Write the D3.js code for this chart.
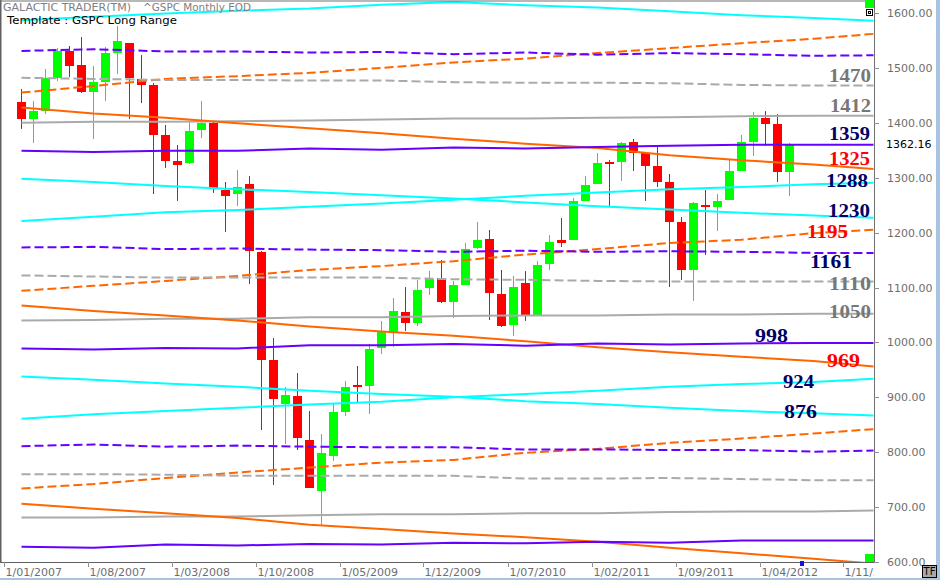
<!DOCTYPE html>
<html><head><meta charset="utf-8">
<script src="https://cdn.jsdelivr.net/npm/d3@7"></script>
<style>body{margin:0;background:#fff;} svg{display:block;}</style>
</head><body>
<svg id="chart" width="940" height="580"></svg>
<script>
// ---------- DATA ----------
const months = ["2007-02","2007-03","2007-04","2007-05","2007-06","2007-07","2007-08","2007-09","2007-10","2007-11","2007-12",
"2008-01","2008-02","2008-03","2008-04","2008-05","2008-06","2008-07","2008-08","2008-09","2008-10","2008-11","2008-12",
"2009-01","2009-02","2009-03","2009-04","2009-05","2009-06","2009-07","2009-08","2009-09","2009-10","2009-11","2009-12",
"2010-01","2010-02","2010-03","2010-04","2010-05","2010-06","2010-07","2010-08","2010-09","2010-10","2010-11","2010-12",
"2011-01","2011-02","2011-03","2011-04","2011-05","2011-06","2011-07","2011-08","2011-09","2011-10","2011-11","2011-12",
"2012-01","2012-02","2012-03","2012-04","2012-05","2012-06"];
const openP = [1437.9,1406.8,1420.8,1482.4,1530.6,1504.7,1455.2,1474.0,1527.3,1545.8,1479.6,
1468.0,1378.6,1330.5,1326.4,1386.0,1399.6,1276.7,1269.4,1287.8,1164.2,968.7,888.6,
903.0,823.1,729.6,793.6,872.7,923.3,920.8,990.2,1019.5,1054.9,1036.2,1098.9,
1116.6,1073.9,1105.4,1171.2,1188.6,1087.3,1031.1,1107.5,1049.7,1143.5,1185.7,1186.6,
1257.6,1289.1,1328.6,1329.5,1365.2,1345.2,1320.6,1292.6,1219.1,1131.2,1251.0,1246.9,
1258.9,1312.5,1365.9,1408.5,1397.9,1309.9];
const highP = [1461.6,1438.9,1498.0,1535.6,1540.6,1555.9,1503.9,1538.7,1576.1,1545.8,1523.6,
1471.8,1396.0,1359.7,1404.0,1440.2,1404.1,1292.2,1313.2,1303.0,1167.0,1007.5,918.9,
943.9,875.0,833.0,888.7,930.2,956.2,996.7,1039.5,1080.2,1101.4,1113.7,1130.4,
1150.5,1112.4,1180.7,1219.8,1205.1,1131.2,1121.0,1129.2,1148.7,1196.1,1227.1,1262.6,
1302.7,1344.1,1332.3,1364.6,1370.6,1345.2,1356.5,1307.4,1229.3,1256.2,1277.6,1269.4,
1333.5,1378.0,1419.2,1422.4,1415.3,1363.5];
const lowP = [1389.4,1364.0,1416.4,1476.7,1484.2,1454.3,1370.6,1439.3,1489.6,1406.1,1435.7,
1270.1,1316.8,1257.0,1324.4,1373.1,1272.0,1200.4,1248.6,1106.4,839.8,741.0,815.7,
804.3,734.5,666.8,783.3,866.1,888.9,869.3,978.5,992.0,1020.2,1029.4,1085.9,
1071.6,1044.5,1105.4,1170.7,1040.8,1028.3,1010.9,1039.7,1049.7,1131.9,1173.0,1186.6,
1257.6,1289.1,1249.1,1294.7,1311.8,1258.1,1282.9,1101.5,1114.2,1074.8,1158.7,1202.4,
1258.9,1312.5,1340.0,1357.4,1292.0,1266.7];
const closeP = [1406.8,1420.9,1482.4,1530.6,1503.4,1455.3,1474.0,1526.8,1549.4,1481.1,1468.4,
1378.6,1330.6,1322.7,1385.6,1400.4,1280.0,1267.4,1282.8,1166.4,968.8,896.2,903.3,
825.9,735.1,797.9,872.8,919.1,919.3,987.5,1020.6,1057.1,1036.2,1095.6,1115.1,
1073.9,1104.5,1169.4,1186.7,1089.4,1030.7,1101.6,1049.3,1141.2,1183.3,1180.6,1257.6,
1286.1,1327.2,1325.8,1363.6,1345.2,1320.6,1292.3,1218.9,1131.4,1253.3,1247.0,1257.6,
1312.4,1365.7,1408.5,1397.9,1310.3,1362.16];

// level lines, values read at these months
const knotMonths = ["2007-02","2007-08","2008-02","2008-08","2009-02","2009-08","2010-02","2010-08","2011-02","2011-08","2012-02","2012-08","2013-01"];
const cyanTop        = [1587,1593,1599,1604,1608,1615,1620,1614,1610,1603,1596,1591,1586];
const orangeDashTop  = [1455,1467,1480,1485,1491,1500,1510,1517,1527,1536,1545,1553,1562];
const purpleDashTop  = [1531,1534,1530,1530,1528,1529,1525,1528,1524,1527,1525,1522,1523];
const grayDashTop    = [1482,1480,1478,1478,1477,1477,1474,1473,1473,1472,1469,1468,1468];
const graySolidTop   = [1400,1402,1402,1403,1404,1406,1408,1408,1409,1410,1412,1413,1413];
const orangeSolidTop = [1428,1417,1409,1399,1390,1381,1371,1362,1354,1341,1332,1324,1316];
const purpleSolidTop = [1349,1347,1349,1349,1353,1351,1355,1353,1356,1358,1360,1360,1360];
const cyanDescTop    = [1298,1292,1285,1279,1274,1268,1262,1255,1248,1242,1236,1231,1227];
const cyanAscTop     = [1221,1229,1237,1241,1247,1253,1260,1267,1273,1279,1283,1288,1291];
const orangeDashMid  = [1094,1103,1112,1121,1132,1139,1148,1160,1170,1181,1187,1199,1205];
const purpleDashMid  = [1173,1174,1170,1171,1169,1168,1165,1167,1165,1166,1165,1163,1163];
const grayDashMid    = [1122,1120,1118,1118,1118,1118,1115,1114,1112,1111,1111,1111,1111];
const graySolidMid   = [1040,1041,1043,1043,1046,1046,1048,1049,1049,1051,1051,1052,1052];
const orangeSolidMid = [1067,1057,1049,1040,1029,1020,1012,1002,991,982,974,966,956];
const purpleSolidMid = [989,987,990,989,995,995,997,994,998,996,998,999,999];
const cyanDescLow    = [938,932,925,919,912,906,901,893,888,881,875,871,867];
const cyanAscLow     = [861,869,875,881,887,892,900,906,912,919,924,928,934];
const orangeDashLow  = [734,742,753,763,772,781,786,799,806,817,825,834,842];
const purpleDashLow  = [811,814,810,812,810,809,809,805,805,804,804,801,803];
const grayDashLow    = [760,760,759,757,757,757,757,752,752,753,751,749,749];
const graySolidLow   = [681,681,683,683,685,687,687,689,689,691,692,692,694];
const orangeSolidLow = [706,697,689,680,668,660,652,645,637,626,616,606,597];
const purpleSolidLow = [628,626,632,630,633,632,635,634,637,635,639,639,639];

const levelLabels = ["1470","1412","1359","1325","1288","1230","1195","1161","1110","1050","998","969","924","876"];
const yTicks = [600,700,800,900,1000,1100,1200,1300,1400,1500,1600];
const xTickMonths = ["2007-01","2007-08","2008-03","2008-10","2009-05","2009-12","2010-07","2011-02","2011-09","2012-04","2012-11"];

// ---------- STYLE / LAYOUT ----------
const C = {cyan:"#00ffff", orange:"#ff6600", purple:"#6600ff", gray:"#aaaaaa"};
const series = [
  [cyanTop,C.cyan,false],[orangeDashTop,C.orange,true],[purpleDashTop,C.purple,true],[grayDashTop,C.gray,true],
  [graySolidTop,C.gray,false],[orangeSolidTop,C.orange,false],[purpleSolidTop,C.purple,false],
  [cyanDescTop,C.cyan,false],[cyanAscTop,C.cyan,false],
  [orangeDashMid,C.orange,true],[purpleDashMid,C.purple,true],[grayDashMid,C.gray,true],
  [graySolidMid,C.gray,false],[orangeSolidMid,C.orange,false],[purpleSolidMid,C.purple,false],
  [cyanDescLow,C.cyan,false],[cyanAscLow,C.cyan,false],
  [orangeDashLow,C.orange,true],[purpleDashLow,C.purple,true],[grayDashLow,C.gray,true],
  [graySolidLow,C.gray,false],[orangeSolidLow,C.orange,false],[purpleSolidLow,C.purple,false]
];
const NAVY="#000066", RED="#ff0000", LG="#777777";
// [left x, width, dy from level, color]
const labelLayout = [
  [829,42,-8.4,LG],[830,41,-10.2,LG],[829,41,-11.8,NAVY],[829,41,-5,RED],[826,42,-3.3,NAVY],
  [828,42,-5.4,NAVY],[807,41,-3.8,RED],[810,42,7.7,NAVY],[829,42,2,LG],[829,42,-2.6,LG],
  [755,33,-7.5,NAVY],[827,33,1.3,RED],[783,31,-1.8,NAVY],[784,33,1.1,NAVY]
];

// ---------- SCALES ----------
const svg = d3.select("#chart");
const PL=1, PR=874, PT=1, PB=562;
const mIndex = s => { const [y,m] = s.split("-").map(Number); return (y-2007)*12 + (m-1); };
const x = d3.scaleLinear().domain([0,72]).range([3.5,867.5]);
const y = d3.scaleLinear().domain([600,1600]).range([562,13]);
const cx = s => x(mIndex(s)+0.5);

svg.append("defs").append("clipPath").attr("id","plot")
  .append("rect").attr("x",PL).attr("y",PT).attr("width",PR-PL).attr("height",PB-PT);
svg.select("defs").append("clipPath").attr("id","xlab")
  .append("rect").attr("x",0).attr("y",PB).attr("width",PR).attr("height",18);

svg.append("rect").attr("width",940).attr("height",580).attr("fill","#fff");

const plot = svg.append("g").attr("clip-path","url(#plot)");

// candles
const candles = months.map((m,i)=>({m, o:openP[i], h:highP[i], l:lowP[i], c:closeP[i]}));
const cg = plot.append("g").attr("shape-rendering","crispEdges");
cg.selectAll("rect.w").data(candles).join("rect").attr("class","w")
  .attr("x",d=>cx(d.m)-0.5).attr("width",1)
  .attr("y",d=>y(d.h)).attr("height",d=>y(d.l)-y(d.h))
  .attr("fill",d=>d.c>=d.o?"#00ff00":"#ff0000");
cg.selectAll("rect.b").data(candles).join("rect").attr("class","b")
  .attr("x",d=>cx(d.m)-4.5).attr("width",9)
  .attr("y",d=>y(Math.max(d.o,d.c))).attr("height",d=>Math.max(1,Math.abs(y(d.o)-y(d.c))))
  .attr("fill",d=>d.c>=d.o?"#00ff00":"#ff0000");

// level lines
const line = d3.line().x((d,i)=>cx(knotMonths[i])).y(d=>y(d)).curve(d3.curveLinear);
series.forEach(([vals,col,dash])=>{
  plot.append("path").attr("d",line(vals)).attr("fill","none")
    .attr("stroke",col).attr("stroke-width",2)
    .attr("stroke-dasharray",dash?"9,4":null);
});

// level labels
const levelVals = levelLabels.map(Number);
levelLabels.forEach((t,i)=>{
  const [lx,w,dy,col] = labelLayout[i];
  svg.append("text").attr("x",lx).attr("y",y(levelVals[i])+dy+6)
    .attr("textLength",w).attr("lengthAdjust","spacingAndGlyphs")
    .attr("font-family","'Liberation Serif','Times New Roman',serif").attr("font-weight","bold")
    .attr("font-size",18).attr("fill",col).text(t);
});

// frame
svg.append("line").attr("x1",0.75).attr("x2",0.75).attr("y1",0).attr("y2",PB).attr("stroke","#606060").attr("stroke-width",1.5);
svg.append("line").attr("x1",0).attr("x2",PR).attr("y1",1).attr("y2",1).attr("stroke","#707070").attr("stroke-width",1);
svg.append("line").attr("x1",PR+0.5).attr("x2",PR+0.5).attr("y1",0).attr("y2",PB).attr("stroke","#707070").attr("stroke-width",1);
svg.append("line").attr("x1",0).attr("x2",PR+1).attr("y1",PB+0.5).attr("y2",PB+0.5).attr("stroke","#606060").attr("stroke-width",1);

// y axis (right)
const ya = svg.append("g");
yTicks.forEach(v=>{
  ya.append("line").attr("x1",PR).attr("x2",PR+5).attr("y1",Math.round(y(v))+0.5).attr("y2",Math.round(y(v))+0.5).attr("stroke","#909090");
  ya.append("text").attr("x",887).attr("y",y(v)+4).attr("font-family","'DejaVu Sans',Verdana,sans-serif")
    .attr("font-size",11).attr("fill","#6e6e6e").text(d3.format(".2f")(v));
});
const last = closeP[closeP.length-1];
svg.append("text").attr("x",886).attr("y",y(last)+4).attr("font-family","'DejaVu Sans',Verdana,sans-serif")
  .attr("font-size",11).attr("fill","#000").text(last.toFixed(2));

// x axis
const xa = svg.append("g").attr("clip-path","url(#xlab)");
xTickMonths.forEach(s=>{
  const xx = Math.round(x(mIndex(s)))+0.5;
  xa.append("line").attr("x1",xx).attr("x2",xx).attr("y1",PB).attr("y2",PB+5).attr("stroke","#909090");
  const [yy,mm] = s.split("-");
  xa.append("text").attr("x",xx+1).attr("y",576).attr("font-family","'DejaVu Sans',Verdana,sans-serif")
    .attr("font-size",11).attr("fill","#6e6e6e").text("1/"+mm+"/"+yy);
});

// header
svg.append("text").attr("x",3).attr("y",11).attr("font-family","'DejaVu Sans',Verdana,sans-serif")
  .attr("font-size",10).attr("textLength",128).attr("lengthAdjust","spacingAndGlyphs").attr("fill","#808080").text("GALACTIC TRADER(TM)");
svg.append("text").attr("x",143).attr("y",11).attr("font-family","'DejaVu Sans',Verdana,sans-serif")
  .attr("font-size",10).attr("textLength",108).attr("lengthAdjust","spacingAndGlyphs").attr("fill","#808080").text("^GSPC Monthly EOD");
svg.append("text").attr("x",7).attr("y",24).attr("font-family","'DejaVu Sans',Verdana,sans-serif")
  .attr("font-size",11).attr("textLength",170).attr("lengthAdjust","spacingAndGlyphs").attr("fill","#000").text("Template : GSPC Long Range");

// decorations
svg.append("rect").attr("x",865).attr("y",0).attr("width",9).attr("height",8).attr("fill","#00ff00");
svg.append("rect").attr("x",866.5).attr("y",9.5).attr("width",6).attr("height",6).attr("fill","#fff").attr("stroke","#000");
svg.append("rect").attr("x",868.5).attr("y",11.5).attr("width",2).attr("height",2).attr("fill","none").attr("stroke","#000");
svg.append("rect").attr("x",865).attr("y",554).attr("width",9).attr("height",8).attr("fill","#00ff00");
svg.append("rect").attr("x",cx("2012-07")-1.5).attr("y",561).attr("width",4).attr("height",5).attr("fill","#1414e6");
svg.append("rect").attr("x",936).attr("y",0).attr("width",4).attr("height",580).attr("fill","#a9c4e0");
svg.append("rect").attr("x",0).attr("y",578).attr("width",940).attr("height",2).attr("fill","#a9c4e0");
svg.append("rect").attr("x",922.5).attr("y",565.5).attr("width",14).attr("height",12).attr("fill","#a8a8a8").attr("stroke","#000");
svg.append("text").attr("x",929.5).attr("y",575).attr("text-anchor","middle").attr("font-family","'DejaVu Sans',Verdana,sans-serif")
  .attr("font-size",10).attr("fill","#000").text("TF");
</script>
</body></html>
